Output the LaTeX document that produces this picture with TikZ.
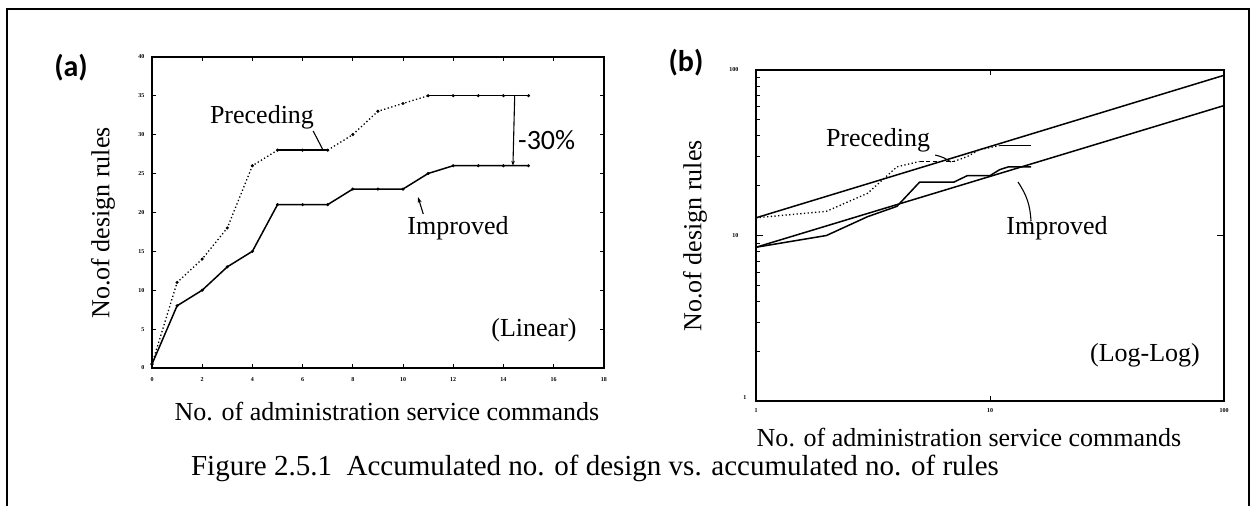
\documentclass[tikz,border=0pt]{standalone}
\usepackage{fontspec}
\setmainfont{Liberation Serif}
\newfontfamily\tagfont{Carlito}
\usetikzlibrary{arrows.meta,calc}

\tikzset{
  frameline/.style={line width=1.9pt},
  axisline/.style={line width=1.4pt},
  tickline/.style={line width=1pt},
  ticklab/.style={font=\fontsize{6}{6}\selectfont\bfseries, inner sep=0pt},
  txt/.style={font=\fontsize{26}{26}\selectfont, inner sep=0pt},
  tagtxt/.style={font=\tagfont\bfseries\fontsize{30}{30}\selectfont, inner sep=0pt},
  curve/.style={line width=1.5pt, line join=round},
  dotcurve/.style={line width=1.3pt, dash pattern=on 1.3pt off 2.4pt},
  dashcurve/.style={line width=1.3pt, dash pattern=on 4pt off 2.5pt},
  leader/.style={line width=1.1pt},
}

\begin{document}
\begin{tikzpicture}[x=1pt, y=-1pt]
\useasboundingbox (0,0) rectangle (1255,506);
\fill[white] (0,0) rectangle (1255,506);

% outer frame (open at the bottom edge of the page)
\draw[frameline] (7,506) -- (7,9) -- (1249,9) -- (1249,506);

% ---------------- panel (a): linear axes ----------------
\node[tagtxt] (tagA) at (71,68) {(a)};
\begin{scope}[shift={(152,368)}, x=25.1pt, y=7.78pt]
  \draw[axisline] (0,0) rectangle (18,40);
  \foreach \i in {2,4,...,16} {
    \draw[tickline] (\i,0) -- ++(0,0.5);
    \draw[tickline] (\i,40) -- ++(0,-0.5);
  }
  \foreach \j in {5,10,...,35} {
    \draw[tickline] (0,\j) -- ++(0.16,0);
    \draw[tickline] (18,\j) -- ++(-0.16,0);
  }
  \foreach \i in {0,2,...,18}
    \node[ticklab] at (\i,-1.5) {\i};
  \foreach \j in {0,5,...,40}
    \node[ticklab, anchor=east] at (-0.3,\j) {\j};

  % data: preceding version
  \foreach \y [count=\k from 0] in {0.5,11,14,18,26,28,28,28,30,33,34,35,35,35,35,35}
    \coordinate (pa\k) at (\k,\y);
  % data: improved version
  \foreach \y [count=\k from 0] in {0.5,8,10,13,15,21,21,21,23,23,23,25,26,26,26,26}
    \coordinate (ia\k) at (\k,\y);

  \draw[dotcurve] (pa0) -- (pa1) -- (pa2) -- (pa3) -- (pa4) -- (pa5);
  \draw[curve] (pa5) -- (pa6) -- (pa7);
  \draw[dotcurve] (pa7) -- (pa8) -- (pa9) -- (pa10) -- (pa11);
  \draw[curve] (pa11) -- (pa12) -- (pa13) -- (pa14) -- (pa15);
  \draw[curve] (ia0) \foreach \k in {1,...,15} { -- (ia\k) };
  \foreach \k in {0,...,15} {
    \fill (pa\k) circle (1.7pt);
    \fill (ia\k) circle (1.7pt);
  }

  \coordinate (gapTop) at (14.45,35);
  \coordinate (gapBot) at (14.38,26);
\end{scope}
\draw[leader, -{Stealth[length=5pt,width=3.5pt]}] (gapTop) -- (gapBot);
\node[font=\tagfont\fontsize{28}{28}\selectfont, inner sep=0pt, anchor=west] (gapLab) at (518,140) {-30\%};

\node[txt] (precA) at (262,117) {Preceding};
\coordinate (precAtip) at (323,150);
\draw[leader] ([xshift=-1pt,yshift=-2pt]precA.south east) -- (precAtip);

\node[txt] (impA) at (458,228) {Improved};
\coordinate (impAtip) at (418,197);
\draw[leader, -{Stealth[length=6pt,width=4pt]}] ([xshift=16pt,yshift=2pt]impA.north west) -- (impAtip);

\node[txt] (linA) at (534,330) {(Linear)};
\node[txt, rotate=90] (ylabA) at (103,223) {No.of design rules};
\node[txt] (xlabA) at (387,412) {No. of administration service commands};

% ---------------- panel (b): log-log axes ----------------
\node[tagtxt] (tagB) at (686,63) {(b)};
\begin{scope}[shift={(756,401)}, x=234pt, y=165.5pt]
  \draw[axisline] (0,0) rectangle (2,2);
  % minor and major ticks on the value axis
  \foreach \m in {2,...,9} {
    \draw[tickline] (0,{log10(\m)}) -- ++(0.016,0);
    \draw[tickline] (0,{1+log10(\m)}) -- ++(0.016,0);
  }
  \draw[tickline] (0,1) -- ++(0.03,0);
  \draw[tickline] (2,1) -- ++(-0.03,0);
  \draw[tickline] (1,0) -- ++(0,0.03);
  \draw[tickline] (1,2) -- ++(0,-0.03);
  \node[ticklab, anchor=east] at (-0.075,2) {100};
  \node[ticklab, anchor=east] at (-0.075,1) {10};
  \node[ticklab, anchor=east] at (-0.04,0.02) {1};
  \node[ticklab] at (0,-0.06) {1};
  \node[ticklab] at (1,-0.06) {10};
  \node[ticklab] at (2,-0.06) {100};

  % fitted power-law lines
  \coordinate (fpL) at (0,1.107);
  \coordinate (fpR) at (2,1.968);
  \coordinate (fiL) at (0,0.929);
  \coordinate (fiR) at (2,1.785);
  \draw[curve] (fpL) -- (fpR);
  \draw[curve] (fiL) -- (fiR);

  % same data as panel (a), on logarithmic axes
  \foreach \y [count=\k] in {11,14,18,26,28,28,28,30,33,34,35,35,35,35,35}
    \coordinate (pb\k) at ({log10(\k)},{log10(\y)});
  \foreach \y [count=\k] in {8,10,13,15,21,21,21,23,23,23,25,26,26,26,26}
    \coordinate (ib\k) at ({log10(\k)},{log10(\y)});

  \draw[dotcurve] (fpL) -- (pb2) -- (pb3) -- (pb4) -- (pb5);
  \draw[dashcurve] (pb5) -- (pb6) -- (pb7);
  \draw[dotcurve] (pb7) -- (pb8) -- (pb9) -- (pb10) -- (pb11);
  \draw[curve] (pb11) -- (pb12) -- (pb13) -- (pb14) -- (pb15);
  \draw[curve] (fiL) -- (ib2) \foreach \k in {3,...,15} { -- (ib\k) };
\end{scope}

\node[txt] (precB) at (878,140) {Preceding};
\coordinate (precBtip) at (951,162);
\draw[leader] ([xshift=5pt,yshift=-3pt]precB.south east) to[bend left=10] (precBtip);

\node[txt] (impB) at (1057,228) {Improved};
\coordinate (impBtip) at (1018,182);
\draw[leader] ([xshift=-26pt,yshift=-5pt]impB.north) to[bend right=15] (impBtip);

\node[txt] (logB) at (1145,355) {(Log-Log)};
\node[txt, rotate=90] (ylabB) at (695,236) {No.of design rules};
\node[txt] (xlabB) at (969,438) {No. of administration service commands};

% ---------------- caption ----------------
\node[font=\fontsize{29}{29}\selectfont, inner sep=0pt] (caption) at (595,468)
  {Figure 2.5.1\ \ Accumulated no. of design vs. accumulated no. of rules};
\end{tikzpicture}
\end{document}
